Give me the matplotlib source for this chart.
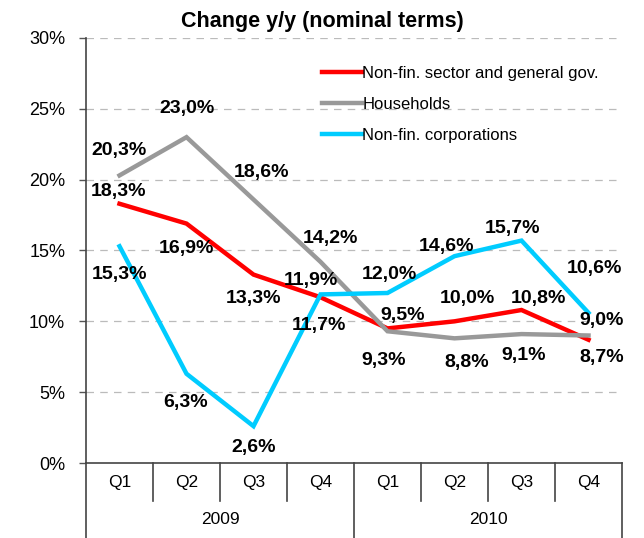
import matplotlib
matplotlib.use("Agg")
import matplotlib.pyplot as plt
import matplotlib.transforms as mtransforms

plt.rcParams["font.family"] = ["Liberation Sans", "DejaVu Sans"]

quarters = ["Q1", "Q2", "Q3", "Q4", "Q1", "Q2", "Q3", "Q4"]
years = ["2009", "2010"]

nonfin_gov = [18.3, 16.9, 13.3, 11.7, 9.5, 10.0, 10.8, 8.7]
households = [20.3, 23.0, 18.6, 14.2, 9.3, 8.8, 9.1, 9.0]
corporations = [15.3, 6.3, 2.6, 11.9, 12.0, 14.6, 15.7, 10.6]

# label offsets in pixels (dx, dy up)
off_gov = [(-1, 12), (0, -25), (0, -24), (-2, -28), (15, 13), (13, 23), (17, 12), (13, -18)]
off_hh = [(-1, 25), (0, 29), (8, 27), (10, 23), (-4, -29), (12, -24), (2, -21), (13, 15)]
off_corp = [(0, -28), (-1, -29), (0, -21), (-10, 14), (2, 19), (-8, 10), (-9, 12), (6, 44)]

DPI = 100
fig = plt.figure(figsize=(6.44, 5.38), dpi=DPI)
ax = fig.add_axes([86 / 644, 75 / 538, 536 / 644, 425 / 538])

x = [i + 0.5 for i in range(len(quarters))]
series = [
    (nonfin_gov, "#FF0000", "Non-fin. sector and general gov.", off_gov),
    (households, "#999999", "Households", off_hh),
    (corporations, "#00CCFF", "Non-fin. corporations", off_corp),
]
for vals, col, lab, offs in series:
    ax.plot(x, vals, color=col, lw=3.2, label=lab, solid_joinstyle="miter")
for vals, col, lab, offs in series:
    for xi, v, (dx, dy) in zip(x, vals, offs):
        ax.annotate(f"{v:.1f}%".replace(".", ","), xy=(xi, v), xytext=(dx, dy),
                    textcoords="offset pixels", ha="center", va="center",
                    fontsize=14, fontweight="bold", color="black")

ax.set_xlim(0, 8)
ax.set_ylim(0, 30)
ax.set_yticks(range(0, 31, 5))
ax.set_yticklabels([f"{t}%" for t in range(0, 31, 5)], fontsize=13)
ax.tick_params(axis="y", length=5, width=1, color="#555555", pad=10)
ax.set_xticks([])
for t in range(5, 31, 5):
    ax.axhline(t, color="#bbbbbb", lw=0.9, ls=(0, (6, 5)), zorder=0)
for s in ["top", "right"]:
    ax.spines[s].set_visible(False)
ax.spines["left"].set_color("#444444")
ax.spines["bottom"].set_color("#444444")
ax.spines["left"].set_linewidth(1.2)
ax.spines["bottom"].set_linewidth(1.2)

# two-level category axis
trans = mtransforms.blended_transform_factory(ax.transData, ax.transAxes)
q_row = -38 / 425
y_row = -75 / 425
for i in range(1, 8):
    bottom = y_row if i == 4 else q_row
    ax.plot([i, i], [0, bottom], transform=trans, color="#444444", lw=1.2, clip_on=False)
for xx in [0, 8]:
    ax.plot([xx, xx], [0, y_row], transform=trans, color="#444444", lw=1.2, clip_on=False)
for xi, q in zip(x, quarters):
    ax.text(xi, q_row / 2, q, transform=trans, ha="center", va="center", fontsize=12.5)
for j, yr in enumerate(years):
    ax.text(2 + 4 * j, (q_row + y_row) / 2, yr, transform=trans, ha="center", va="center", fontsize=12.5)

ax.legend(loc="upper left", bbox_to_anchor=(0.427, 0.95), frameon=False, fontsize=12,
          handlelength=2.4, handletextpad=0.05, labelspacing=0.95, borderaxespad=0)

fig.text(0.5, 1 - 22 / 538, "Change y/y (nominal terms)", ha="center", va="center",
         fontsize=15.5, fontweight="bold")

fig.savefig("out.png", dpi=DPI)
